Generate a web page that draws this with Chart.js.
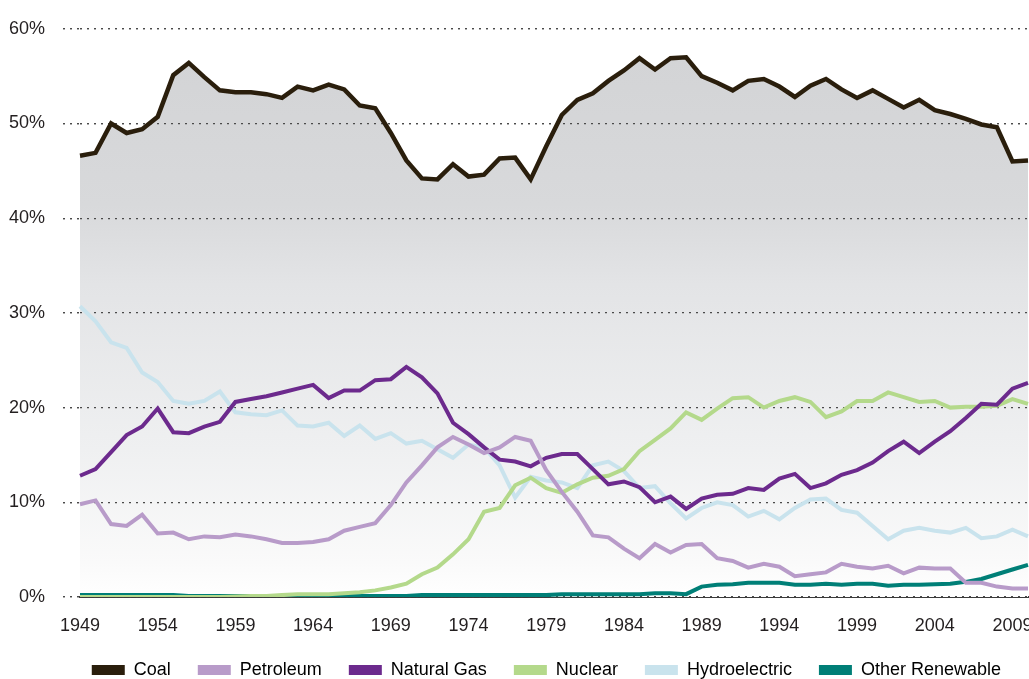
<!DOCTYPE html>
<html>
<head>
<meta charset="utf-8">
<script src="https://cdn.jsdelivr.net/npm/chart.js@4.4.0/dist/chart.umd.min.js"></script>
<style>
  html, body { margin: 0; padding: 0; background: #fff; }
  #wrap { width: 1029px; height: 679px; }
</style>
</head>
<body>
<div id="wrap"><canvas id="grafico"></canvas></div>
<script>
// years 1949 - 2010
const anios = [];
for (let a = 1949; a <= 2010; a++) anios.push(a);

const coal = [46.6, 46.9, 50.0, 49.0, 49.4, 50.7, 55.1, 56.4, 54.9, 53.5,
  53.3, 53.3, 53.1, 52.7, 53.9, 53.5, 54.1, 53.6, 51.9, 51.6,
  49.0, 46.1, 44.2, 44.1, 45.7, 44.4, 44.6, 46.3, 46.4, 44.1,
  47.6, 50.9, 52.5, 53.2, 54.5, 55.6, 56.9, 55.7, 56.9, 57.0,
  55.0, 54.3, 53.5, 54.5, 54.7, 53.9, 52.8, 54.0, 54.7, 53.6,
  52.7, 53.5, 52.6, 51.7, 52.5, 51.4, 51.0, 50.5, 49.9, 49.6,
  46.0, 46.1];
const petroleum = [9.8, 10.2, 7.7, 7.5, 8.7, 6.7, 6.8, 6.1, 6.4, 6.3,
  6.6, 6.4, 6.1, 5.7, 5.7, 5.8, 6.1, 7.0, 7.4, 7.8,
  9.7, 12.1, 13.9, 15.8, 16.9, 16.1, 15.2, 15.8, 16.9, 16.5,
  13.4, 11.1, 9.0, 6.5, 6.3, 5.1, 4.1, 5.6, 4.7, 5.5,
  5.6, 4.1, 3.8, 3.1, 3.5, 3.2, 2.2, 2.4, 2.6, 3.5,
  3.2, 3.0, 3.3, 2.5, 3.1, 3.0, 3.0, 1.5, 1.5, 1.1,
  0.9, 0.9];
const naturalGas = [12.8, 13.5, 15.3, 17.1, 18.0, 19.9, 17.4, 17.3, 18.0, 18.5,
  20.6, 20.9, 21.2, 21.6, 22.0, 22.4, 21.0, 21.8, 21.8, 22.9,
  23.0, 24.3, 23.2, 21.5, 18.4, 17.2, 15.8, 14.5, 14.3, 13.8,
  14.7, 15.1, 15.1, 13.5, 11.9, 12.2, 11.6, 10.0, 10.6, 9.3,
  10.4, 10.8, 10.9, 11.5, 11.3, 12.5, 13.0, 11.5, 12.0, 12.9,
  13.4, 14.2, 15.4, 16.4, 15.2, 16.4, 17.5, 18.9, 20.4, 20.3,
  22.0, 22.6];
const nuclear = [0, 0, 0, 0, 0, 0, 0, 0, 0, 0,
  0.05, 0.1, 0.1, 0.2, 0.3, 0.3, 0.3, 0.4, 0.5, 0.7,
  1.0, 1.4, 2.4, 3.1, 4.5, 6.1, 9.0, 9.4, 11.8, 12.6,
  11.5, 11.0, 11.9, 12.6, 12.8, 13.5, 15.4, 16.6, 17.8, 19.5,
  18.7, 19.9, 21.0, 21.1, 20.0, 20.7, 21.1, 20.6, 19.0, 19.6,
  20.7, 20.7, 21.6, 21.1, 20.6, 20.7, 20.0, 20.1, 20.1, 20.2,
  20.9, 20.4];
const hydro = [30.7, 29.1, 26.9, 26.3, 23.7, 22.7, 20.7, 20.4, 20.7, 21.7,
  19.5, 19.3, 19.2, 19.7, 18.1, 18.0, 18.4, 17.0, 18.1, 16.7,
  17.3, 16.2, 16.5, 15.6, 14.7, 16.1, 15.8, 13.9, 10.5, 12.7,
  12.3, 12.1, 11.5, 13.9, 14.3, 13.3, 11.5, 11.7, 9.9, 8.3,
  9.4, 10.0, 9.7, 8.5, 9.1, 8.2, 9.4, 10.3, 10.4, 9.2,
  8.9, 7.5, 6.1, 7.0, 7.3, 7.0, 6.8, 7.3, 6.2, 6.4,
  7.1, 6.4];
const otherRenewable = [0.2, 0.2, 0.2, 0.2, 0.2, 0.2, 0.2, 0.1, 0.1, 0.1,
  0.1, 0.1, 0.1, 0.1, 0.1, 0.1, 0.1, 0.1, 0.1, 0.1,
  0.1, 0.1, 0.2, 0.2, 0.2, 0.2, 0.2, 0.2, 0.2, 0.2,
  0.2, 0.3, 0.3, 0.3, 0.3, 0.3, 0.3, 0.4, 0.4, 0.3,
  1.1, 1.3, 1.35, 1.5, 1.5, 1.5, 1.3, 1.3, 1.4, 1.3,
  1.4, 1.4, 1.2, 1.3, 1.3, 1.35, 1.4, 1.6, 1.9, 2.4,
  2.9, 3.4];

const yTicks = [0, 10, 20, 30, 40, 50, 60];

const fuente = "'Liberation Sans', Arial, sans-serif";

// gradient under the coal line
function degradado(context) {
  const area = context.chart.chartArea;
  if (!area) return '#d8d9db';
  const g = context.chart.ctx.createLinearGradient(0, area.top, 0, area.bottom);
  g.addColorStop(0, '#d2d3d5');
  g.addColorStop(0.31, '#d8d9db');
  g.addColorStop(0.45, '#e3e4e6');
  g.addColorStop(0.74, '#eff0f1');
  g.addColorStop(0.94, '#fafafa');
  g.addColorStop(1, '#ffffff');
  return g;
}

// redraw dotted grid on top of the coal fill
const gridEncima = {
  id: 'gridEncima',
  beforeDatasetsDraw(chart) {
    chart.scales.y.drawGrid(chart.chartArea);
  }
};

function serie(label, data, color, ancho) {
  return {
    label: label,
    data: data,
    borderColor: color,
    backgroundColor: color,
    borderWidth: ancho,
    pointRadius: 0,
    tension: 0,
    fill: false
  };
}

const ctx = document.getElementById('grafico').getContext('2d');
const datasets = [
  serie('Coal', coal, '#2a1e0c', 4.5),
  serie('Petroleum', petroleum, '#b89bc9', 4),
  serie('Natural Gas', naturalGas, '#6c2a8d', 4),
  serie('Nuclear', nuclear, '#b4d98b', 4),
  serie('Hydroelectric', hydro, '#c9e3ed', 4),
  serie('Other Renewable', otherRenewable, '#007f77', 4)
];
datasets[0].fill = 'origin';
datasets[0].backgroundColor = degradado;

new Chart(ctx, {
  type: 'line',
  data: { labels: anios, datasets: datasets },
  plugins: [gridEncima],
  options: {
    responsive: true,
    maintainAspectRatio: false,
    animation: false,
    layout: { padding: { top: 19, right: 1, left: 9, bottom: -10 } },
    plugins: {
      filler: { drawTime: 'beforeDatasetsDraw' },
      tooltip: { enabled: false },
      legend: {
        position: 'bottom',
        align: 'end',
        labels: {
          boxWidth: 33,
          boxHeight: 10,
          padding: 27,
          color: '#231f20',
          font: { family: fuente, size: 18 },
          generateLabels(chart) {
            return chart.data.datasets.map((d, i) => ({
              text: d.label,
              fillStyle: d.borderColor,
              strokeStyle: d.borderColor,
              lineWidth: 0,
              datasetIndex: i
            }));
          }
        }
      }
    },
    scales: {
      x: {
        type: 'category',
        offset: false,
        grid: { display: false, drawTicks: false },
        border: { display: true, color: '#3a3a3a', width: 2 },
        ticks: {
          autoSkip: false,
          maxRotation: 0,
          padding: 18,
          color: '#231f20',
          font: { family: fuente, size: 18 },
          callback(v, i) {
            return (anios[i] - 1949) % 5 === 0 ? String(anios[i]) : '';
          }
        },
        afterFit(scale) {
          scale.height = 37;
          scale.paddingLeft = 0;
          scale.paddingRight = 0;
        }
      },
      y: {
        min: 0,
        max: 60,
        afterBuildTicks(scale) { scale.ticks = yTicks.map(v => ({ value: v })); },
        grid: {
          color: '#4a4a4a',
          lineWidth: 1.2,
          tickBorderDash: [2, 5],
          tickLength: 17,
          tickColor: '#4a4a4a',
          tickWidth: 1.2
        },
        border: { display: false, dash: [2, 5] },
        ticks: {
          padding: 18,
          color: '#231f20',
          font: { family: fuente, size: 18 },
          callback(v) { return v + '%'; }
        },
        afterFit(scale) { scale.width = 71; }
      }
    }
  }
});
</script>
</body>
</html>
